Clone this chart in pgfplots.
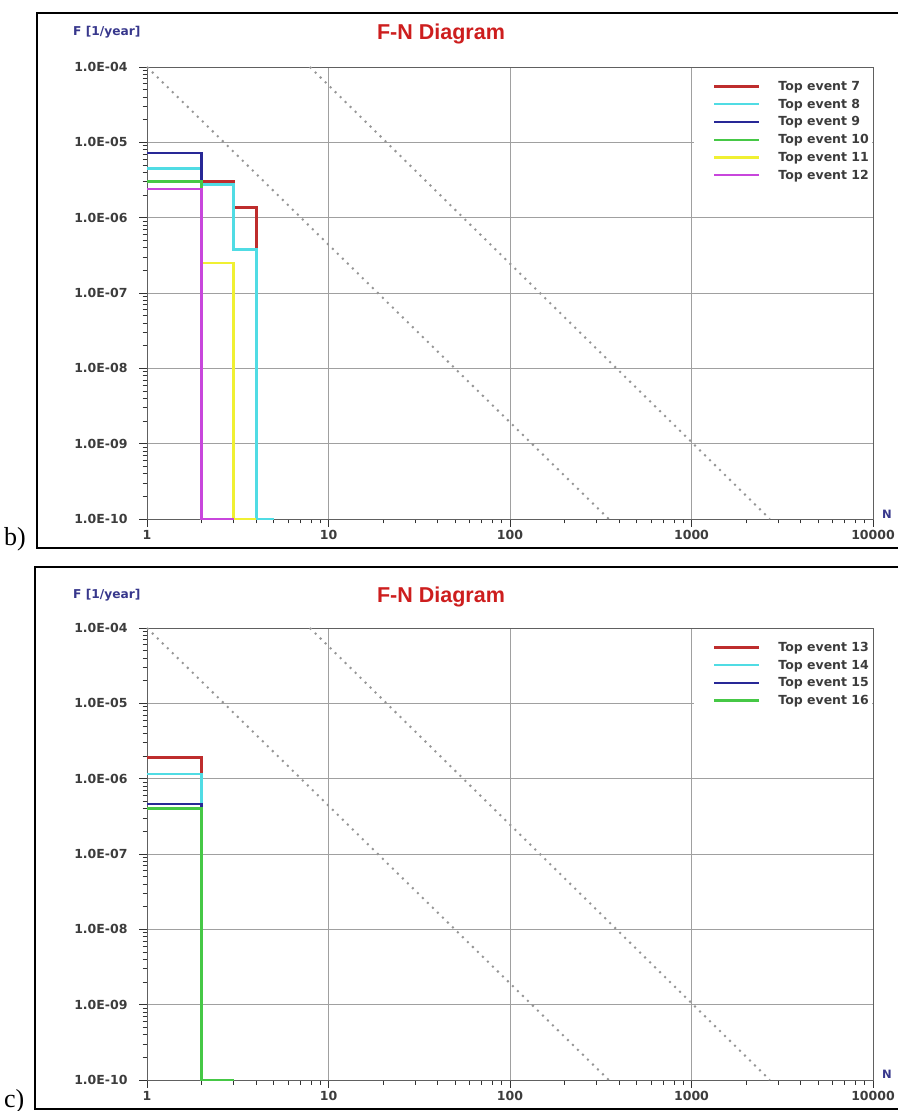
\documentclass[border=0pt]{standalone}
\usepackage{fontspec}
\usepackage{pgfplots}
\pgfplotsset{compat=1.18}
\setmainfont{DejaVu Sans}
\newfontfamily\lsans{Liberation Sans}
\newfontfamily\lserif{Liberation Serif}
\newfontfamily\dvs{DejaVu Sans}
\definecolor{cRed}{RGB}{190,45,45}
\definecolor{cCyan}{RGB}{80,220,228}
\definecolor{cBlue}{RGB}{40,40,150}
\definecolor{cGreen}{RGB}{70,200,70}
\definecolor{cYellow}{RGB}{240,240,50}
\definecolor{cMag}{RGB}{200,70,220}
\definecolor{titleRed}{RGB}{205,30,30}
\definecolor{navy}{RGB}{55,55,140}
\definecolor{labgray}{RGB}{60,60,60}
\definecolor{gridgray}{RGB}{160,160,160}
\definecolor{dotgray}{RGB}{150,150,150}
\pgfplotsset{legend image code/.code={\draw[#1, line width=2.2pt] (0pt,0pt) -- (45pt,0pt);}}
\begin{document}
\begin{tikzpicture}
\path[use as bounding box] (0pt,0pt) rectangle (898pt,1111pt);
% ---------- panel b ----------
\draw[black, line width=2pt] (898pt,1097.7pt) -- (36.7pt,1097.7pt) -- (36.7pt,563.3pt) -- (898pt,563.3pt);
\node[anchor=base west, inner sep=0pt, font=\lserif\fontsize{26}{28}\selectfont] at (4pt,565pt) {b)};
\node[font=\lsans\bfseries\fontsize{21.5}{24}\selectfont, text=titleRed] at (441pt,1077pt) {F-N Diagram};
\node[anchor=west, inner sep=0pt, font=\dvs\bfseries\fontsize{12.2}{14}\selectfont, text=navy] at (73pt,1079pt) {F [1/year]};
\node[font=\dvs\bfseries\fontsize{11.5}{13}\selectfont, text=navy] at (887pt,597pt) {N};
\begin{axis}[scale only axis, width=726pt, height=452pt, at={(147pt,592pt)}, anchor=south west,
    xmode=log, ymode=log, xmin=1, xmax=10000, ymin=1e-10, ymax=1e-4,
    xtick={1,10,100,1000,10000}, xticklabels={1,10,100,1000,10000},
    ytick={1e-10,1e-9,1e-8,1e-7,1e-6,1e-5,1e-4},
    yticklabels={1.0E-10,1.0E-09,1.0E-08,1.0E-07,1.0E-06,1.0E-05,1.0E-04},
    minor xtick={2,3,4,5,6,7,8,9,20,30,40,50,60,70,80,90,200,300,400,500,600,700,800,900,2000,3000,4000,5000,6000,7000,8000,9000},
    minor ytick={2e-10,3e-10,4e-10,5e-10,6e-10,7e-10,8e-10,9e-10,2e-9,3e-9,4e-9,5e-9,6e-9,7e-9,8e-9,9e-9,2e-8,3e-8,4e-8,5e-8,6e-8,7e-8,8e-8,9e-8,2e-7,3e-7,4e-7,5e-7,6e-7,7e-7,8e-7,9e-7,2e-6,3e-6,4e-6,5e-6,6e-6,7e-6,8e-6,9e-6,2e-5,3e-5,4e-5,5e-5,6e-5,7e-5,8e-5,9e-5},
    xmajorgrids=true, ymajorgrids=true,
    major grid style={draw=gridgray, line width=0.8pt},
    axis line style={draw=gray!75!black, line width=0.9pt},
    tick align=outside, xtick pos=bottom, ytick pos=left,
    major tick length=8pt, minor tick length=4.5pt,
    tick style={draw=gray!40!black, line width=0.8pt},
    ticklabel style={font=\dvs\bfseries\fontsize{12.5}{14}\selectfont, text=labgray},
    yticklabel style={xshift=-8pt},
    clip=false, legend cell align=left,
    legend style={at={(rel axis cs:0.7796,0.9735)}, anchor=north west,
      draw=none, fill=none, inner sep=0pt, row sep=3pt, column sep=16pt,
      font=\dvs\bfseries\fontsize{12.5}{14}\selectfont, text=labgray}]
\addplot[dotgray, line width=2pt, dash pattern=on 2pt off 5pt, forget plot] coordinates {(1,1e-4) (350,1e-10)};
\addplot[dotgray, line width=2pt, dash pattern=on 2pt off 5pt, forget plot] coordinates {(7.9,1e-4) (2700,1e-10)};
\addplot[line width=2.5pt, cRed] coordinates {(1,3.0e-6) (3,3.0e-6) (3,1.37e-6) (4,1.37e-6) (4,1e-10) (5,1e-10)};
\addlegendentry{Top event 7}
\addplot[line width=2.5pt, cCyan] coordinates {(1,4.5e-6) (2,4.5e-6) (2,2.75e-6) (3,2.75e-6) (3,3.77e-7) (4,3.77e-7) (4,1e-10) (5,1e-10)};
\addlegendentry{Top event 8}
\addplot[line width=2.5pt, cBlue] coordinates {(1,7.2e-6) (2,7.2e-6) (2,1e-10) (3,1e-10)};
\addlegendentry{Top event 9}
\addplot[line width=2.5pt, cGreen] coordinates {(1,3.0e-6) (2,3.0e-6) (2,1e-10) (3,1e-10)};
\addlegendentry{Top event 10}
\addplot[line width=2.5pt, cYellow] coordinates {(1,2.4e-6) (2,2.4e-6) (2,2.5e-7) (3,2.5e-7) (3,1e-10) (4,1e-10)};
\addlegendentry{Top event 11}
\addplot[line width=2.5pt, cMag] coordinates {(1,2.4e-6) (2,2.4e-6) (2,1e-10) (3,1e-10)};
\addlegendentry{Top event 12}
\fill[white] (rel axis cs:0.7534,0.9978) rectangle (rel axis cs:0.9986,0.6748);
\end{axis}
% ---------- panel c ----------
\draw[black, line width=2pt] (898pt,543.7pt) -- (35pt,543.7pt) -- (35pt,1.7pt) -- (898pt,1.7pt);
\node[anchor=base west, inner sep=0pt, font=\lserif\fontsize{26}{28}\selectfont] at (4pt,4pt) {c)};
\node[font=\lsans\bfseries\fontsize{21.5}{24}\selectfont, text=titleRed] at (441pt,514pt) {F-N Diagram};
\node[anchor=west, inner sep=0pt, font=\dvs\bfseries\fontsize{12.2}{14}\selectfont, text=navy] at (73pt,516pt) {F [1/year]};
\node[font=\dvs\bfseries\fontsize{11.5}{13}\selectfont, text=navy] at (887pt,37pt) {N};
\begin{axis}[scale only axis, width=726pt, height=452pt, at={(147pt,31pt)}, anchor=south west,
    xmode=log, ymode=log, xmin=1, xmax=10000, ymin=1e-10, ymax=1e-4,
    xtick={1,10,100,1000,10000}, xticklabels={1,10,100,1000,10000},
    ytick={1e-10,1e-9,1e-8,1e-7,1e-6,1e-5,1e-4},
    yticklabels={1.0E-10,1.0E-09,1.0E-08,1.0E-07,1.0E-06,1.0E-05,1.0E-04},
    minor xtick={2,3,4,5,6,7,8,9,20,30,40,50,60,70,80,90,200,300,400,500,600,700,800,900,2000,3000,4000,5000,6000,7000,8000,9000},
    minor ytick={2e-10,3e-10,4e-10,5e-10,6e-10,7e-10,8e-10,9e-10,2e-9,3e-9,4e-9,5e-9,6e-9,7e-9,8e-9,9e-9,2e-8,3e-8,4e-8,5e-8,6e-8,7e-8,8e-8,9e-8,2e-7,3e-7,4e-7,5e-7,6e-7,7e-7,8e-7,9e-7,2e-6,3e-6,4e-6,5e-6,6e-6,7e-6,8e-6,9e-6,2e-5,3e-5,4e-5,5e-5,6e-5,7e-5,8e-5,9e-5},
    xmajorgrids=true, ymajorgrids=true,
    major grid style={draw=gridgray, line width=0.8pt},
    axis line style={draw=gray!75!black, line width=0.9pt},
    tick align=outside, xtick pos=bottom, ytick pos=left,
    major tick length=8pt, minor tick length=4.5pt,
    tick style={draw=gray!40!black, line width=0.8pt},
    ticklabel style={font=\dvs\bfseries\fontsize{12.5}{14}\selectfont, text=labgray},
    yticklabel style={xshift=-8pt},
    clip=false, legend cell align=left,
    legend style={at={(rel axis cs:0.7796,0.9735)}, anchor=north west,
      draw=none, fill=none, inner sep=0pt, row sep=3pt, column sep=16pt,
      font=\dvs\bfseries\fontsize{12.5}{14}\selectfont, text=labgray}]
\addplot[dotgray, line width=2pt, dash pattern=on 2pt off 5pt, forget plot] coordinates {(1,1e-4) (350,1e-10)};
\addplot[dotgray, line width=2pt, dash pattern=on 2pt off 5pt, forget plot] coordinates {(7.9,1e-4) (2700,1e-10)};
\addplot[line width=2.5pt, cRed] coordinates {(1,1.91e-6) (2,1.91e-6) (2,1e-10) (3,1e-10)};
\addlegendentry{Top event 13}
\addplot[line width=2.5pt, cCyan] coordinates {(1,1.15e-6) (2,1.15e-6) (2,1e-10) (3,1e-10)};
\addlegendentry{Top event 14}
\addplot[line width=2.5pt, cBlue] coordinates {(1,4.6e-7) (2,4.6e-7) (2,1e-10) (3,1e-10)};
\addlegendentry{Top event 15}
\addplot[line width=2.5pt, cGreen] coordinates {(1,4.0e-7) (2,4.0e-7) (2,1e-10) (3,1e-10)};
\addlegendentry{Top event 16}
\fill[white] (rel axis cs:0.7534,0.9978) rectangle (rel axis cs:0.9986,0.6748);
\end{axis}
\end{tikzpicture}
\end{document}
